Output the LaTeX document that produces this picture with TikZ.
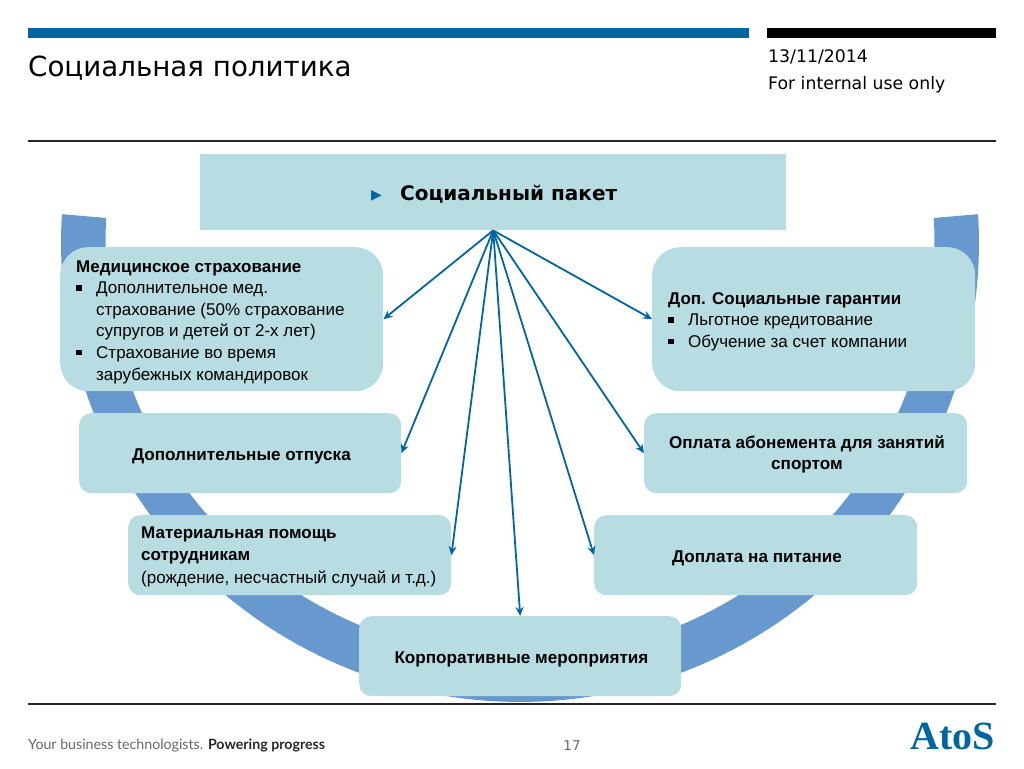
\documentclass[tikz,border=0pt]{standalone}
\usepackage{fontspec}
\setmainfont{Liberation Sans}
\newfontfamily\verd{DejaVu Sans}
\newfontfamily\serifb{Liberation Serif}
\newfontfamily\footf{Lato}
\definecolor{boxc}{HTML}{B7DDE2}
\definecolor{arcc}{HTML}{6799CE}
\definecolor{atos}{HTML}{0066A1}
\newcommand{\fs}{\fontsize{17.1}{21.6}\selectfont}
\newcommand{\fl}{\fontsize{17}{21.6}\selectfont}
\newcommand{\bul}{\makebox[20pt][l]{\rule[3pt]{5.5pt}{5.5pt}}}
\newcommand{\ind}{\hspace*{20pt}}
\newcommand{\lowr}[2]{\hspace*{2.5pt}\rule{0pt}{#1pt}\textbf{#2}}
\usetikzlibrary{arrows.meta}
\tikzset{
  x=1pt,y=-1pt,
  card/.style={fill=boxc,rounded corners=#1,anchor=north west,inner sep=0pt,align=center,font=\fs},
  card/.default=12pt,
  link/.style={draw=atos,line width=1.8pt,-{Stealth[length=9pt,width=8pt]}},
  rule/.style={draw=black!85,line width=1.3pt},
  lefttext/.style={anchor=west,align=left,inner sep=0pt,font=\fl}
}
\begin{document}
\begin{tikzpicture}
\useasboundingbox (0,0) rectangle (1024,768);
% ring
\fill[arcc] plot[domain=183.6:-3.6,samples=120] ({520+459*cos(\x)},{243+459*sin(\x)})
  -- plot[domain=-3.46:183.46,samples=120] ({520+414.5*cos(\x)},{243+414.5*sin(\x)}) -- cycle;
% header
\fill[atos] (28,28) rectangle (749,38);
\fill[black] (767,28) rectangle (996,38);
\draw[rule] (28,141) -- (996,141);
\draw[rule] (28,704) -- (996,704);
\node[anchor=base west,inner sep=0pt,font=\verd\fontsize{27.7}{32}\selectfont] (title) at (28,76) {Социальная политика};
\node[anchor=base west,inner sep=0pt,font=\verd\fontsize{17.3}{20}\selectfont] (date) at (768,63) {13/11/2014};
\node[anchor=base west,inner sep=0pt,font=\verd\fontsize{17.3}{20}\selectfont] (use) at (768,89) {For internal use only};
% top box
\node[fill=boxc,anchor=north west,inner sep=0pt,minimum width=586pt,minimum height=76pt] (top) at (200,154) {};
\node[anchor=base west,inner sep=0pt,text=atos,font=\verd\fontsize{14}{16}\selectfont] (mark) at (371,199) {▶};
\node[anchor=base west,inner sep=0pt,font=\verd\bfseries\fontsize{20}{22}\selectfont] (pack) at (400,200) {Социальный пакет};
% cards
\node[card=28pt,minimum width=323pt,minimum height=144pt] (med) at (60,247) {};
\node[lefttext] (medt) at (76,322) {\textbf{Медицинское страхование}\\
 \bul Дополнительное мед.\\ \ind страхование (50\% страхование\\ \ind супругов и детей от 2-х лет)\\
 \bul Страхование во время\\ \ind зарубежных командировок};
\node[card=28pt,minimum width=323pt,minimum height=144pt] (gar) at (652,247) {};
\node[lefttext] (gart) at (668,321.5) {\textbf{Доп. Социальные гарантии}\\ \bul Льготное кредитование\\ \bul Обучение за счет компании};
\node[card,minimum width=322pt,minimum height=80pt] (otp) at (79,413) {\lowr{18.5}{Дополнительные отпуска}};
\node[card,minimum width=323pt,minimum height=80pt] (spo) at (644,413) {\lowr{15.5}{Оплата абонемента для занятий}\\ \lowr{0}{спортом}};
\node[card,minimum width=323pt,minimum height=80pt] (mat) at (128,515) {};
\node[lefttext] (matt) at (141,557) {\textbf{Материальная помощь}\\ \textbf{сотрудникам}\\[2pt] (рождение, несчастный случай и т.д.)};
\node[card,minimum width=323pt,minimum height=80pt] (pit) at (594,515) {\lowr{18.5}{Доплата на питание}};
\node[card,minimum width=322pt,minimum height=80pt] (cor) at (359,616) {\lowr{18.5}{Корпоративные мероприятия}};
% connectors
\coordinate (src) at (top.south);
\draw[link] (src) -- (med.east);
\draw[link] (src) -- (gar.west);
\draw[link] (src) -- (otp.east);
\draw[link] (src) -- (spo.west);
\draw[link] (src) -- (mat.east);
\draw[link] (src) -- (pit.west);
\draw[link] (src) -- (cor.north);
% footer
\node[anchor=base west,inner sep=0pt,text=black!60,font=\footf\fontsize{14.2}{18}\selectfont] (foot) at (28,749) {Your business technologists. \textcolor{black!85}{\bfseries Powering progress}};
\node[anchor=base,inner sep=0pt,text=black!60,font=\verd\fontsize{13.5}{15}\selectfont] (num) at (572,750) {17};
\node[anchor=base east,inner sep=0pt,text=atos,font=\serifb\bfseries\fontsize{40}{40}\selectfont] (logo) at (995,749) {AtoS};
\end{tikzpicture}
\end{document}
